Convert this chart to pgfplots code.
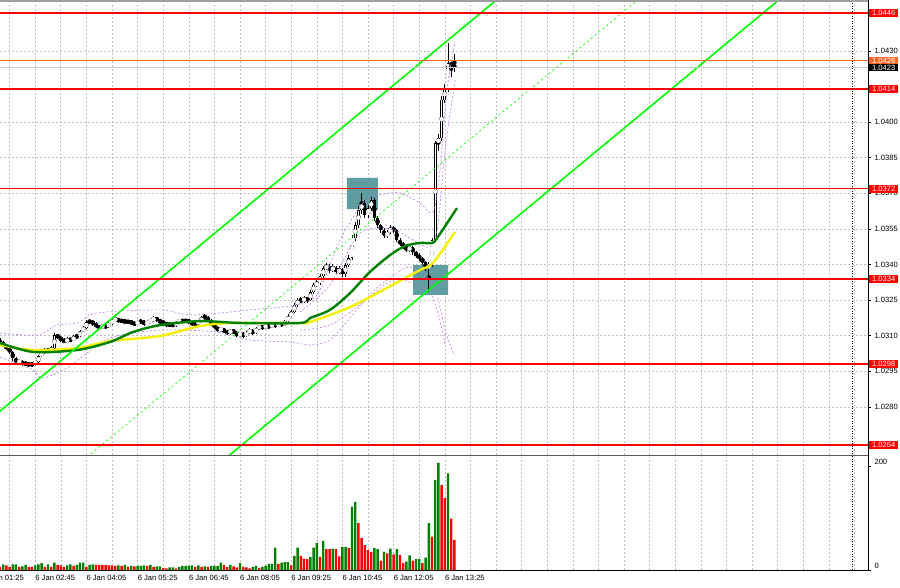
\documentclass[border=0pt]{standalone}
\usepackage{fontspec}
\setmainfont{Liberation Sans}
\usepackage{pgfplots}
\usepackage{pgfplotstable}
\pgfplotsset{compat=1.18}
\definecolor{mtred}{RGB}{255,0,0}
\definecolor{mtlime}{RGB}{0,255,0}
\definecolor{mtdgreen}{RGB}{0,128,0}
\definecolor{mtyellow}{RGB}{245,240,0}
\definecolor{mtpurple}{RGB}{190,120,230}
\definecolor{mtteal}{RGB}{95,158,160}
\definecolor{mtorange}{RGB}{255,105,40}
\definecolor{mtgrid}{RGB}{192,192,192}
\definecolor{mtbid}{RGB}{200,200,200}
\newcommand\mtfont{\fontsize{7.6}{9}\selectfont}

\pgfplotstableread{
i o h l c
5 1.03080 1.03090 1.03062 1.03070
6 1.03070 1.03078 1.03052 1.03061
7 1.03061 1.03066 1.03040 1.03048
8 1.03048 1.03055 1.03024 1.03032
9 1.03032 1.03036 1.02995 1.03006
10 1.03006 1.03012 1.02978 1.02989
11 1.02989 1.03002 1.02982 1.02994
12 1.02994 1.02999 1.02972 1.02981
13 1.02981 1.02992 1.02975 1.02985
14 1.02985 1.02990 1.02968 1.02977
15 1.02977 1.02988 1.02970 1.02981
16 1.02981 1.02995 1.02975 1.02989
17 1.02989 1.03020 1.02984 1.03015
18 1.03015 1.03040 1.03010 1.03032
19 1.03032 1.03048 1.03026 1.03040
20 1.03040 1.03046 1.03030 1.03036
21 1.03036 1.03056 1.03030 1.03048
22 1.03048 1.03112 1.03044 1.03103
23 1.03103 1.03110 1.03088 1.03095
24 1.03095 1.03100 1.03074 1.03082
25 1.03082 1.03090 1.03070 1.03078
26 1.03078 1.03094 1.03072 1.03086
27 1.03086 1.03092 1.03075 1.03082
28 1.03082 1.03102 1.03078 1.03095
29 1.03095 1.03108 1.03088 1.03099
30 1.03099 1.03126 1.03094 1.03120
31 1.03120 1.03140 1.03114 1.03133
32 1.03133 1.03166 1.03128 1.03158
33 1.03158 1.03172 1.03150 1.03162
34 1.03162 1.03168 1.03142 1.03150
35 1.03150 1.03156 1.03134 1.03141
36 1.03141 1.03148 1.03126 1.03133
37 1.03133 1.03152 1.03128 1.03145
38 1.03145 1.03150 1.03130 1.03137
39 1.03137 1.03160 1.03132 1.03154
40 1.03154 1.03174 1.03148 1.03166
41 1.03166 1.03180 1.03160 1.03171
42 1.03171 1.03176 1.03155 1.03162
43 1.03162 1.03172 1.03156 1.03166
44 1.03166 1.03170 1.03150 1.03158
45 1.03158 1.03168 1.03152 1.03162
46 1.03162 1.03166 1.03148 1.03154
47 1.03154 1.03160 1.03144 1.03150
48 1.03150 1.03164 1.03146 1.03158
49 1.03158 1.03170 1.03152 1.03162
50 1.03162 1.03166 1.03144 1.03150
51 1.03150 1.03164 1.03146 1.03158
52 1.03158 1.03172 1.03152 1.03166
53 1.03166 1.03184 1.03160 1.03175
54 1.03175 1.03180 1.03160 1.03166
55 1.03166 1.03170 1.03152 1.03158
56 1.03158 1.03164 1.03148 1.03154
57 1.03154 1.03158 1.03140 1.03145
58 1.03145 1.03156 1.03140 1.03150
59 1.03150 1.03154 1.03138 1.03145
60 1.03145 1.03164 1.03140 1.03158
61 1.03158 1.03172 1.03152 1.03166
62 1.03166 1.03170 1.03156 1.03162
63 1.03162 1.03172 1.03156 1.03166
64 1.03166 1.03170 1.03152 1.03158
65 1.03158 1.03162 1.03144 1.03150
66 1.03150 1.03160 1.03144 1.03154
67 1.03154 1.03168 1.03148 1.03162
68 1.03162 1.03184 1.03158 1.03175
69 1.03175 1.03192 1.03168 1.03179
70 1.03179 1.03184 1.03160 1.03166
71 1.03166 1.03170 1.03144 1.03150
72 1.03150 1.03156 1.03130 1.03137
73 1.03137 1.03142 1.03116 1.03124
74 1.03124 1.03136 1.03118 1.03129
75 1.03129 1.03134 1.03112 1.03120
76 1.03120 1.03126 1.03104 1.03112
77 1.03112 1.03130 1.03106 1.03124
78 1.03124 1.03128 1.03108 1.03116
79 1.03116 1.03120 1.03096 1.03103
80 1.03103 1.03118 1.03098 1.03112
81 1.03112 1.03118 1.03090 1.03099
82 1.03099 1.03122 1.03094 1.03116
83 1.03116 1.03132 1.03110 1.03124
84 1.03124 1.03130 1.03104 1.03112
85 1.03112 1.03140 1.03108 1.03133
86 1.03133 1.03148 1.03126 1.03141
87 1.03141 1.03146 1.03126 1.03133
88 1.03133 1.03152 1.03128 1.03145
89 1.03145 1.03150 1.03128 1.03137
90 1.03137 1.03158 1.03132 1.03150
91 1.03150 1.03156 1.03134 1.03141
92 1.03141 1.03160 1.03136 1.03154
93 1.03154 1.03160 1.03138 1.03145
94 1.03145 1.03168 1.03140 1.03162
95 1.03162 1.03190 1.03158 1.03183
96 1.03183 1.03210 1.03178 1.03200
97 1.03200 1.03238 1.03196 1.03230
98 1.03230 1.03262 1.03224 1.03251
99 1.03251 1.03264 1.03238 1.03246
100 1.03246 1.03268 1.03240 1.03259
101 1.03259 1.03266 1.03240 1.03251
102 1.03251 1.03292 1.03246 1.03284
103 1.03284 1.03322 1.03278 1.03314
104 1.03314 1.03336 1.03306 1.03322
105 1.03322 1.03362 1.03316 1.03352
106 1.03352 1.03396 1.03346 1.03386
107 1.03386 1.03408 1.03376 1.03394
108 1.03394 1.03402 1.03366 1.03377
109 1.03377 1.03404 1.03370 1.03390
110 1.03390 1.03396 1.03360 1.03369
111 1.03369 1.03392 1.03362 1.03381
112 1.03381 1.03388 1.03350 1.03360
113 1.03360 1.03406 1.03348 1.03398
114 1.03398 1.03440 1.03390 1.03428
115 1.03428 1.03526 1.03420 1.03512
116 1.03512 1.03580 1.03500 1.03567
117 1.03567 1.03648 1.03556 1.03630
118 1.03630 1.03702 1.03614 1.03659
119 1.03659 1.03672 1.03596 1.03609
120 1.03609 1.03650 1.03596 1.03638
121 1.03638 1.03688 1.03626 1.03672
122 1.03672 1.03680 1.03586 1.03596
123 1.03596 1.03604 1.03556 1.03567
124 1.03567 1.03574 1.03536 1.03546
125 1.03546 1.03556 1.03512 1.03520
126 1.03520 1.03546 1.03512 1.03537
127 1.03537 1.03566 1.03530 1.03554
128 1.03554 1.03562 1.03536 1.03546
129 1.03546 1.03552 1.03496 1.03504
130 1.03504 1.03512 1.03478 1.03487
131 1.03487 1.03496 1.03468 1.03478
132 1.03478 1.03486 1.03452 1.03461
133 1.03461 1.03482 1.03454 1.03474
134 1.03474 1.03480 1.03444 1.03453
135 1.03453 1.03460 1.03430 1.03440
136 1.03440 1.03448 1.03418 1.03428
137 1.03428 1.03434 1.03400 1.03411
138 1.03411 1.03418 1.03374 1.03386
139 1.03386 1.03410 1.03284 1.03398
140 1.03398 1.03512 1.03390 1.03504
141 1.03504 1.03920 1.03496 1.03912
142 1.03912 1.03950 1.03880 1.03933
143 1.03933 1.04110 1.03920 1.04094
144 1.04094 1.04160 1.04080 1.04144
145 1.04144 1.04334 1.04130 1.04249
146 1.04249 1.04262 1.04190 1.04241
147 1.04241 1.04290 1.04215 1.04233
}\candles

\pgfplotstableread{
i v g
5 6 0
6 11 1
7 9 0
8 6 0
9 11 1
10 11 1
11 6 0
12 7 1
13 10 1
14 6 0
15 6 0
16 9 1
17 11 1
18 13 1
19 6 0
20 11 1
21 6 0
22 14 1
23 10 0
24 9 0
25 6 0
26 9 1
27 11 1
28 8 0
29 10 1
30 14 1
31 14 1
32 6 0
33 10 1
34 11 1
35 10 0
36 10 0
37 10 0
38 10 0
39 9 0
40 9 0
41 8 0
42 9 1
43 8 0
44 10 1
45 6 0
46 8 1
47 7 0
48 8 1
49 8 1
50 9 1
51 8 0
52 10 1
53 6 0
54 7 1
55 7 1
56 4 0
57 3 0
58 5 1
59 5 1
60 3 0
61 6 1
62 8 1
63 8 1
64 8 1
65 9 1
66 6 0
67 9 1
68 6 0
69 7 1
70 6 0
71 8 1
72 8 1
73 8 1
74 14 1
75 10 0
76 6 0
77 10 1
78 7 0
79 5 0
80 13 1
81 6 0
82 5 0
83 3 0
84 6 1
85 8 1
86 4 0
87 6 1
88 8 1
89 12 1
90 12 1
91 43 1
92 12 0
93 14 1
94 15 1
95 15 1
96 9 0
97 27 1
98 43 1
99 27 0
100 22 0
101 21 0
102 25 1
103 43 1
104 52 1
105 25 0
106 56 1
107 40 0
108 40 0
109 41 1
110 40 0
111 26 0
112 44 1
113 44 1
114 42 0
115 122 1
116 131 1
117 90 0
118 62 0
119 48 0
120 38 0
121 35 0
122 42 1
123 40 1
124 18 0
125 35 1
126 32 0
127 41 1
128 30 0
129 40 1
130 29 0
131 13 0
132 16 1
133 28 1
134 18 0
135 21 1
136 21 1
137 13 0
138 24 1
139 90 1
140 64 0
141 173 1
142 206 1
143 163 0
144 138 0
145 186 1
146 99 0
147 58 0
}\volumes

\tikzset{
  lvl/.style={anchor=west, text=white, font=\mtfont, inner xsep=0pt, inner ysep=1.2pt,
    minimum width=29pt, text height=5.4pt, text depth=0pt, xshift=1pt},
  tl/.style={anchor=west, font=\mtfont, inner sep=0pt, yshift=-8pt},
}

\begin{document}
\begin{tikzpicture}
\useasboundingbox (0,0) rectangle (900pt,588pt);
\fill[white] (0,0) rectangle (900pt,588pt);

% ---------------- price panel ----------------
\begin{axis}[
  at={(0pt,585pt)}, anchor=north west,
  width=868pt, height=452pt, scale only axis,
  xmin=5, xmax=276.25, ymin=1.025977, ymax=1.045022,
  clip mode=individual,
  axis line style={draw=none},
  xtick={8,16,...,272}, xticklabels={}, xtick style={draw=none},
  ytick={1.028,1.0295,1.031,1.0325,1.034,1.0355,1.037,1.0385,1.04,1.043},
  ytick pos=right, yticklabel pos=right,
  tick align=outside, major tick length=3pt,
  ytick style={black, line width=0.6pt},
  xmajorgrids, ymajorgrids,
  grid style={mtgrid, line width=0.6pt, dash pattern=on 2pt off 2pt},
  yticklabel style={font=\mtfont, text=black},
  /pgf/number format/fixed, /pgf/number format/fixed zerofill,
  /pgf/number format/precision=4, /pgf/number format/assume math mode=true,
]
% boxes
\addplot[fill=mtteal, draw=none] coordinates {(113.4,1.03634) (123.1,1.03634) (123.1,1.03765) (113.4,1.03765) (113.4,1.03634)};
\addplot[fill=mtteal, draw=none] coordinates {(134.1,1.03272) (145.0,1.03272) (145.0,1.03398) (134.1,1.03398) (134.1,1.03272)};
% candles: wicks
\addplot[black, only marks, mark=none, error bars/.cd, y dir=both, y explicit,
  error bar style={draw=black, line width=0.7pt}, error mark=none]
  table[x=i, y expr={(\thisrow{h}+\thisrow{l})/2}, y error expr={(\thisrow{h}-\thisrow{l})/2}] {\candles};
% bodies
\addplot[black, only marks, mark=none, error bars/.cd, y dir=both, y explicit,
  error bar style={draw=black, line width=2.8pt}, error mark=none]
  table[x=i, y expr={(\thisrow{o}+\thisrow{c})/2}, y error expr={max(abs(\thisrow{o}-\thisrow{c})/2,0.000012)}] {\candles};
\addplot[white, only marks, mark=none, restrict expr to domain={\thisrow{c}-\thisrow{o}}{0.00005:1},
  error bars/.cd, y dir=both, y explicit,
  error bar style={draw=white, line width=1.2pt}, error mark=none]
  table[x=i, y expr={(\thisrow{o}+\thisrow{c})/2}, y error expr={abs(\thisrow{o}-\thisrow{c})/2-0.00002}] {\candles};
% bands
\addplot[mtpurple, line width=0.6pt, dash pattern=on 2pt off 2pt, smooth] coordinates {(5,1.03112) (16.6,1.03103) (22.8,1.03145) (29.1,1.03154) (35.3,1.03196) (55,1.03209) (64.4,1.03188) (76.9,1.03200) (83.1,1.03209) (95.6,1.03225) (101.9,1.03251) (105,1.03293) (111.25,1.03504) (117.5,1.03643) (120.6,1.03685) (124.7,1.03697) (130,1.03702) (136.25,1.03659) (140.3,1.03622) (142.5,1.03799) (144.7,1.04136) (147.2,1.04338)};
\addplot[mtpurple, line width=0.6pt, dash pattern=on 2pt off 2pt, smooth] coordinates {(5,1.03011) (11.25,1.02977) (15.3,1.02956) (18.4,1.02922) (25.9,1.02964) (32.2,1.03027) (40.3,1.03095) (55,1.03124) (72.8,1.03116) (83.1,1.03082) (95.6,1.03074) (101.9,1.03061) (108.1,1.03082) (114.4,1.03175) (120.6,1.03272) (124.7,1.03322) (133.1,1.03390) (140.3,1.03322) (142.5,1.03221) (144.1,1.03124) (146.25,1.03040) (147.2,1.03019)};
\addplot[mtpurple, line width=0.6pt, dash pattern=on 2pt off 2pt, smooth] coordinates {(98.75,1.03200) (108.1,1.03314) (117.5,1.03533) (128.1,1.03546) (138.4,1.03474) (141.6,1.03546) (144.1,1.03883) (147.2,1.04178)};
\addplot[mtpurple, line width=0.6pt, dash pattern=on 2pt off 2pt, smooth] coordinates {(98.75,1.03124) (108.1,1.03145) (117.5,1.03230) (128.1,1.03335) (138.4,1.03293) (141.6,1.03209) (144.1,1.03061)};
% moving averages
\addplot[mtyellow, line width=2.4pt, smooth] coordinates {(5,1.03061) (15.3,1.03040) (29.1,1.03048) (39.4,1.03078) (55,1.03099) (67.5,1.03141) (77.8,1.03154) (98.75,1.03154) (101.9,1.03158) (114.4,1.03221) (124.7,1.03293) (136.25,1.03377) (140.3,1.03407) (147.2,1.03537)};
\addplot[mtdgreen, line width=2.4pt, smooth] coordinates {(5,1.03070) (15.3,1.03032) (29.1,1.03040) (39.4,1.03074) (46.6,1.03116) (55,1.03145) (67.5,1.03162) (80,1.03154) (98.75,1.03154) (101.9,1.03175) (108.1,1.03209) (114.4,1.03280) (120.6,1.03369) (126.9,1.03440) (131.6,1.03478) (136.25,1.03491) (140,1.03491) (141.6,1.03512) (147.8,1.03638)};
% channel
\addplot[mtlime, line width=1.6pt] coordinates {(0,1.02727) (170,1.04625)};
\addplot[mtlime, line width=1.6pt] coordinates {(70,1.02522) (280,1.04868)};
\addplot[mtlime, line width=0.7pt, dash pattern=on 2pt off 3pt] coordinates {(25,1.02508) (210,1.04579)};
% levels
\addplot[mtbid, line width=0.7pt] coordinates {(0,1.0423) (280,1.0423)};
\addplot[mtorange, line width=0.9pt] coordinates {(0,1.0426) (280,1.0426)};
\addplot[mtred, line width=1.6pt] coordinates {(0,1.0446) (280,1.0446)};
\addplot[mtred, line width=1.6pt] coordinates {(0,1.0414) (280,1.0414)};
\addplot[mtred, line width=1.6pt] coordinates {(0,1.0372) (280,1.0372)};
\addplot[mtred, line width=1.6pt] coordinates {(0,1.0334) (280,1.0334)};
\addplot[mtred, line width=1.6pt] coordinates {(0,1.0298) (280,1.0298)};
\addplot[mtred, line width=1.6pt] coordinates {(0,1.0264) (280,1.0264)};
\addplot[black, line width=0.6pt, dash pattern=on 1pt off 1.5pt] coordinates {(271.25,1.02) (271.25,1.05)};
% right-hand labels
\node[lvl, fill=mtred] at (axis cs:276.25,1.0446) {1.0446};
\node[lvl, fill=mtorange] at (axis cs:276.25,1.0426) {1.0426};
\node[lvl, fill=black] at (axis cs:276.25,1.0423) {1.0423};
\node[lvl, fill=mtred] at (axis cs:276.25,1.0414) {1.0414};
\node[lvl, fill=mtred] at (axis cs:276.25,1.0372) {1.0372};
\node[lvl, fill=mtred] at (axis cs:276.25,1.0334) {1.0334};
\node[lvl, fill=mtred] at (axis cs:276.25,1.0298) {1.0298};
\node[lvl, fill=mtred] at (axis cs:276.25,1.0264) {1.0264};
\end{axis}

% ---------------- volume panel ----------------
\begin{axis}[
  at={(0pt,131pt)}, anchor=north west,
  width=868pt, height=113pt, scale only axis,
  xmin=5, xmax=276.25, ymin=0, ymax=217.3,
  clip mode=individual,
  axis line style={draw=none},
  xtick={8,16,...,272}, xticklabels={}, xtick style={draw=none},
  xmajorgrids,
  grid style={mtgrid, line width=0.6pt, dash pattern=on 2pt off 2pt},
  ytick={0,200}, ytick pos=right, yticklabel pos=right,
  tick align=outside, major tick length=3pt,
  ytick style={black, line width=0.6pt},
  yticklabel style={font=\mtfont, text=black, yshift=4pt},
  /pgf/number format/assume math mode=true,
]
\addplot[ybar, bar width=2.4pt, bar shift=0pt, fill=mtdgreen, draw=none,
  restrict expr to domain={\thisrow{g}}{0.5:1.5}] table[x=i, y=v] {\volumes};
\addplot[ybar, bar width=2.4pt, bar shift=0pt, fill=mtred, draw=none,
  restrict expr to domain={\thisrow{g}}{-0.5:0.5}] table[x=i, y=v] {\volumes};
\addplot[black, line width=0.6pt, dash pattern=on 1pt off 1.5pt] coordinates {(271.25,0) (271.25,230)};
\node[tl] at (axis cs:0,0) {6 Jan 01:25};
\node[tl] at (axis cs:16,0) {6 Jan 02:45};
\node[tl] at (axis cs:32,0) {6 Jan 04:05};
\node[tl] at (axis cs:48,0) {6 Jan 05:25};
\node[tl] at (axis cs:64,0) {6 Jan 06:45};
\node[tl] at (axis cs:80,0) {6 Jan 08:05};
\node[tl] at (axis cs:96,0) {6 Jan 09:25};
\node[tl] at (axis cs:112,0) {6 Jan 10:45};
\node[tl] at (axis cs:128,0) {6 Jan 12:05};
\node[tl] at (axis cs:144,0) {6 Jan 13:25};
\end{axis}

% frame
\draw[gray!75, line width=2pt] (0,586.5pt) -- (868pt,586.5pt);
\draw[gray!70!black, line width=1.6pt] (0,132.5pt) -- (868pt,132.5pt);
\draw[black, line width=0.8pt] (868pt,588pt) -- (868pt,18pt);
\draw[black, line width=0.8pt] (0,18pt) -- (868pt,18pt);
\end{tikzpicture}
\end{document}
